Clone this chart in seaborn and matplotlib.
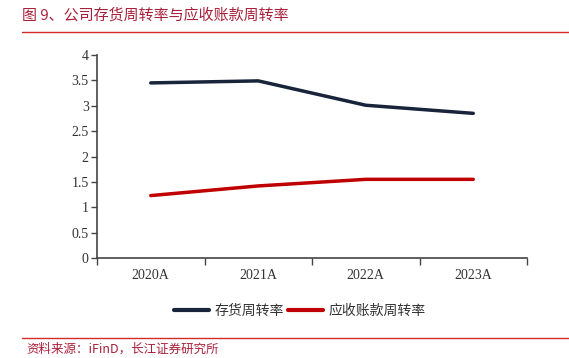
import matplotlib
matplotlib.use("Agg")
import matplotlib.pyplot as plt
import seaborn as sns
import pandas as pd
import numpy as np
from matplotlib.ticker import FixedLocator
from matplotlib.lines import Line2D

years = ["2020A", "2021A", "2022A", "2023A"]
inventory_turnover = [3.45, 3.49, 3.01, 2.85]
receivable_turnover = [1.23, 1.42, 1.55, 1.55]
series_names = ["存货周转率", "应收账款周转率"]
yticks = [0, 0.5, 1, 1.5, 2, 2.5, 3, 3.5, 4]
ytick_labels = ["0", "0.5", "1", "1.5", "2", "2.5", "3", "3.5", "4"]

sns.set_theme(style="white")
plt.rcParams['font.family'] = ['Noto Sans CJK SC', 'DejaVu Sans']

df = pd.DataFrame({
    "x": list(range(len(years))) * 2,
    "value": inventory_turnover + receivable_turnover,
    "series": [series_names[0]] * len(years) + [series_names[1]] * len(years),
})

fig = plt.figure(figsize=(5.69, 3.58), dpi=100)
ax = fig.add_axes([97/569, 1 - 258/358, (527-97)/569, (258-55)/358])

palette = {series_names[0]: "#17243a", series_names[1]: "#c00000"}
sns.lineplot(data=df, x="x", y="value", hue="series", palette=palette,
             linewidth=2.5, ax=ax, legend=False)

ax.set_xlim(-0.5, len(years) - 0.5)
ax.set_ylim(0, 4)
ax.set_xlabel("")
ax.set_ylabel("")
ax.set_yticks(yticks)
ax.set_yticklabels(ytick_labels, family="Liberation Serif", fontsize=10, color="#333333")
ax.set_xticks(range(len(years)))
ax.set_xticklabels(years, family="Liberation Serif", fontsize=10, color="#333333")
ax.xaxis.set_minor_locator(FixedLocator(np.arange(-0.5, len(years), 1.0)))
ax.tick_params(axis="x", which="major", length=0, pad=8)
ax.tick_params(axis="x", which="minor", length=5, width=1, color="#444444", direction="out", bottom=True)
ax.tick_params(axis="y", which="major", length=4, width=1, color="#444444", direction="out", left=True, pad=2)
for s in ["top", "right"]:
    ax.spines[s].set_visible(False)
for s in ["left", "bottom"]:
    ax.spines[s].set_color("#444444")
    ax.spines[s].set_linewidth(1.2)

handles = [Line2D([0], [0], color=palette[n], lw=3) for n in series_names]
fig.legend(handles, series_names, loc="center", bbox_to_anchor=(300/569, 1 - 311/358),
           ncol=2, frameon=False, fontsize=10, handlelength=2.5, columnspacing=0.3,
           handletextpad=0.4, labelcolor="#333333")

title_color = "#a8203a"
fig.text(22/569, 1 - 15/358, "图 9、公司存货周转率与应收账款周转率", fontsize=10.8,
         color=title_color, va="center", ha="left")
fig.add_artist(Line2D([22/569, 1.0], [1 - 32/358, 1 - 32/358], color="#d42a2a", lw=1.0))
fig.add_artist(Line2D([22/569, 1.0], [1 - 338/358, 1 - 338/358], color="#d42a2a", lw=1.0))
fig.text(26/569, 1 - 349/358, "资料来源：iFinD，长江证券研究所", fontsize=9,
         color=title_color, va="center", ha="left")

fig.savefig("out.png", dpi=100)
